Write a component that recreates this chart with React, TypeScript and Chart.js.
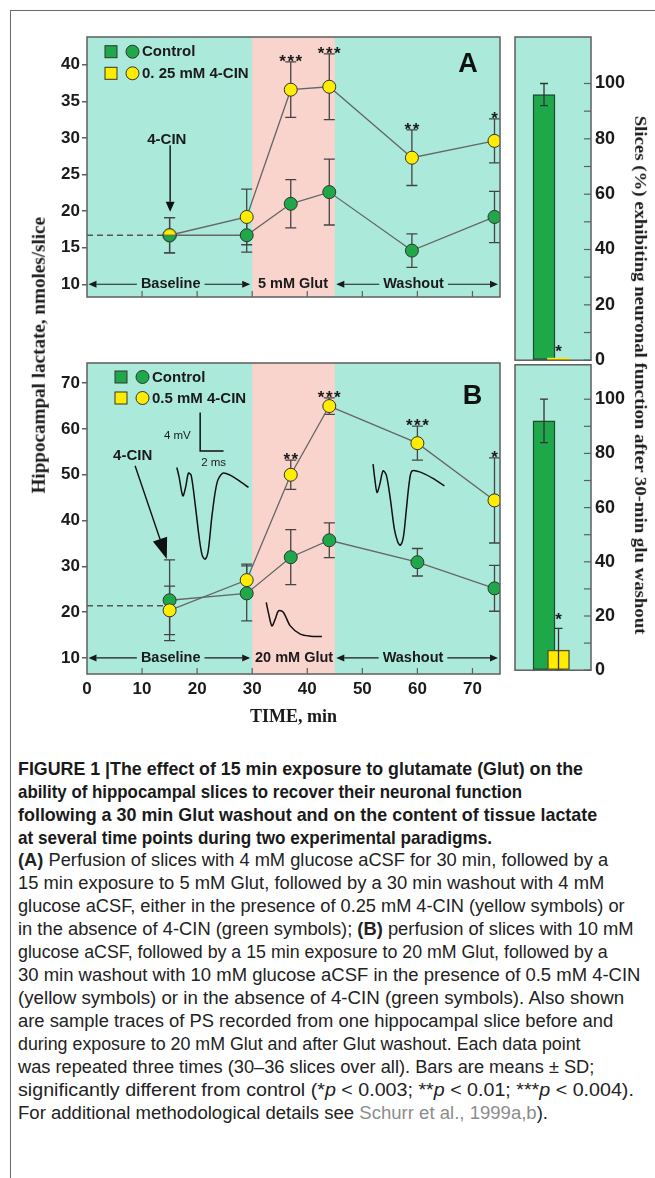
import React, { useEffect, useLayoutEffect, useRef } from 'react';
import { Chart, registerables } from 'chart.js';

Chart.register(...registerables);

if (typeof document !== 'undefined') {
  document.body.style.margin = '0';
  document.body.style.overflow = 'hidden';
  document.body.style.background = '#ffffff';
}

// ================= DATA =================
const xTicks = [0, 10, 20, 30, 40, 50, 60, 70];
const glutWindow = [30, 45];

// Panel A (4 mM glucose, 5 mM Glut, 0.25 mM 4-CIN)
const timesA = [15, 29, 37, 44, 59, 74];
const controlA = [16.7, 16.7, 21.0, 22.6, 14.6, 19.2];
const controlErrA = [2.4, 2.3, 3.3, 4.5, 2.3, 3.5];
const cinA = [16.7, 19.2, 36.6, 37.0, 27.3, 29.6];
const cinErrA = [2.4, 3.8, 3.8, 4.5, 3.8, 3.0];
const starsA = ['', '', '***', '***', '**', '*'];
const baselineTimes = [0, 15];
const baselineA = [16.7, 16.7];
const yTicksA = [10, 15, 20, 25, 30, 35, 40];

// Panel B (10 mM glucose, 20 mM Glut, 0.5 mM 4-CIN)
const timesB = [15, 29, 37, 44, 60, 74];
const controlB = [22.6, 24.1, 32.0, 35.7, 30.9, 25.2];
const controlErrB = [8.8, 6.0, 6.0, 3.8, 3.0, 5.0];
const cinB = [20.4, 27.0, 50.0, 65.0, 56.9, 44.4];
const cinErrB = [5.3, 3.5, 3.2, 1.8, 3.7, 9.3];
const starsB = ['', '', '**', '***', '***', '*'];
const baselineB = [21.4, 21.4];
const yTicksB = [10, 20, 30, 40, 50, 60, 70];

// Bars: slices (%) exhibiting neuronal function after washout
const barLabels = ['Control', '4-CIN'];
const barA = [96, 0];
const barErrA = [4, 0];
const barStarsA = ['', '*'];
const barB = [92, 7.4];
const barErrB = [8, 8];
const barStarsB = ['', '*'];
const barTicks = [0, 10, 20, 30, 40, 50, 60, 70, 80, 90, 100];

// Sample PS traces drawn in panel B (time units, lactate-axis units)
const traceBeforeT = [16.31, 16.73, 17.4, 17.91, 18.42, 18.91, 19.64, 20.36, 20.91, 21.45, 22.0, 22.73, 23.64, 24.67, 26.0, 27.45, 29.33];
const traceBeforeV = [51.59, 49.48, 45.39, 47.29, 50.35, 49.91, 43.58, 36.38, 32.45, 31.57, 33.32, 41.4, 48.38, 50.35, 49.91, 48.82, 47.23];
const traceGlutT = [32.55, 33.0, 33.58, 34.18, 34.78, 35.64, 36.91, 38.73, 40.55, 42.67];
const traceGlutV = [22.12, 19.56, 17.01, 18.47, 20.28, 20.0, 17.01, 15.2, 14.76, 14.69];
const traceAfterT = [51.95, 52.27, 52.67, 53.18, 53.76, 54.36, 55.09, 55.82, 56.45, 56.91, 57.45, 58.0, 58.55, 59.04, 60.55, 62.73, 64.91];
const traceAfterV = [52.31, 49.04, 46.14, 47.95, 50.85, 49.91, 44.67, 38.12, 35.28, 34.63, 36.38, 42.49, 48.6, 50.85, 50.57, 49.26, 47.58];
const scaleBarT = [20.55, 20.55, 24.8];
const scaleBarV = [63.6, 55.2, 55.2];

// ================= STYLE =================
const SANS = '"Liberation Sans", Arial, Helvetica, sans-serif';
const SERIF = '"Liberation Serif", "Times New Roman", serif';
const NARROW = '"Liberation Sans Narrow", "Arial Narrow", "Liberation Sans", Arial, sans-serif';
const TEAL = '#abeadb';
const PINK = '#f8d4cd';
const GREEN = '#1fa84a';
const YELLOW = '#ffec00';
const INK = '#1a1a1a';
const FRAME = '#5e5e5e';
const LINE = '#666666';

Chart.defaults.font.family = SANS;

type Phase = { label: string; from: number; to: number; at: number; arrows: boolean };
type Note = { text: string; x: number; y: number; font: string };
type Arrow = { x1: number; y1: number; x2: number; y2: number; head: number; half: number };

interface PanelCfg {
  id: string;
  times: number[];
  control: number[];
  controlErr: number[];
  cin: number[];
  cinErr: number[];
  stars: string[];
  phases: Phase[];
  phaseY: number;
  legendLabels: string[];
  legendDx: number;
  legendRows: number[];
  letter: string;
  letterX: number;
  letterY: number;
  notes: Note[];
  arrows: Arrow[];
}

function drawArrow(ctx: CanvasRenderingContext2D, x1: number, y1: number, x2: number, y2: number, head: number, half: number) {
  const ang = Math.atan2(y2 - y1, x2 - x1);
  const bx = x2 - head * Math.cos(ang);
  const by = y2 - head * Math.sin(ang);
  ctx.beginPath();
  ctx.moveTo(x1, y1);
  ctx.lineTo(bx, by);
  ctx.stroke();
  ctx.beginPath();
  ctx.moveTo(x2, y2);
  ctx.lineTo(bx + half * Math.sin(ang), by - half * Math.cos(ang));
  ctx.lineTo(bx - half * Math.sin(ang), by + half * Math.cos(ang));
  ctx.closePath();
  ctx.fill();
}

function drawErr(ctx: CanvasRenderingContext2D, px: number, yTop: number, yBot: number, cap: number) {
  ctx.beginPath();
  ctx.moveTo(px, yTop);
  ctx.lineTo(px, yBot);
  ctx.moveTo(px - cap, yTop);
  ctx.lineTo(px + cap, yTop);
  ctx.moveTo(px - cap, yBot);
  ctx.lineTo(px + cap, yBot);
  ctx.stroke();
}

function linePanelPlugin(cfg: PanelCfg) {
  return {
    id: 'panel' + cfg.id,
    beforeDraw(chart: any) {
      const { ctx, chartArea: a } = chart;
      const x = chart.scales.x;
      ctx.save();
      ctx.fillStyle = TEAL;
      ctx.fillRect(a.left, a.top, a.right - a.left, a.bottom - a.top);
      const p0 = x.getPixelForValue(glutWindow[0]);
      const p1 = x.getPixelForValue(glutWindow[1]);
      ctx.fillStyle = PINK;
      ctx.fillRect(p0, a.top, p1 - p0, a.bottom - a.top);
      ctx.restore();
    },
    beforeDatasetsDraw(chart: any) {
      const { ctx } = chart;
      const x = chart.scales.x;
      const y = chart.scales.y;
      ctx.save();
      ctx.strokeStyle = '#444';
      ctx.lineWidth = 1.3;
      const series = [
        [cfg.control, cfg.controlErr],
        [cfg.cin, cfg.cinErr],
      ];
      series.forEach(([vals, errs]) => {
        vals.forEach((v, i) => {
          const px = x.getPixelForValue(cfg.times[i]);
          drawErr(ctx, px, y.getPixelForValue(v + errs[i]), y.getPixelForValue(v - errs[i]), 5.5);
        });
      });
      ctx.restore();
    },
    afterDraw(chart: any) {
      const { ctx, chartArea: a } = chart;
      const x = chart.scales.x;
      const y = chart.scales.y;
      ctx.save();
      // significance stars
      ctx.fillStyle = INK;
      ctx.font = `bold 17px ${SANS}`;
      ctx.textAlign = 'center';
      ctx.textBaseline = 'alphabetic';
      (ctx as any).letterSpacing = '1.5px';
      cfg.stars.forEach((s, i) => {
        if (!s) return;
        const px = x.getPixelForValue(cfg.times[i]);
        const py = y.getPixelForValue(cfg.cin[i] + cfg.cinErr[i]);
        ctx.fillText(s, px + 0.75, py + 5);
      });
      (ctx as any).letterSpacing = '0px';
      // frame
      ctx.strokeStyle = FRAME;
      ctx.lineWidth = 1.5;
      ctx.strokeRect(a.left, a.top, a.right - a.left, a.bottom - a.top);
      // inner x ticks
      ctx.lineWidth = 1.2;
      xTicks.forEach((t) => {
        if (t === 0) return;
        const px = x.getPixelForValue(t);
        ctx.beginPath();
        ctx.moveTo(px, a.bottom);
        ctx.lineTo(px, a.bottom - 6);
        ctx.stroke();
      });
      // phase annotations
      ctx.font = `bold 14.5px ${SANS}`;
      ctx.fillStyle = INK;
      ctx.strokeStyle = INK;
      ctx.lineWidth = 1.2;
      ctx.textAlign = 'center';
      ctx.textBaseline = 'middle';
      const py = y.getPixelForValue(cfg.phaseY);
      cfg.phases.forEach((ph) => {
        const cx = x.getPixelForValue(ph.at);
        ctx.fillText(ph.label, cx, py);
        if (ph.arrows) {
          const w = ctx.measureText(ph.label).width;
          const l0 = x.getPixelForValue(ph.from) + 1.5;
          const r0 = x.getPixelForValue(ph.to) - 2;
          drawArrow(ctx, cx - w / 2 - 4, py, l0, py, 8, 3.5);
          drawArrow(ctx, cx + w / 2 + 4, py, r0, py, 8, 3.5);
        }
      });
      // legend
      const colors = [GREEN, YELLOW];
      cfg.legendLabels.forEach((lab, i) => {
        const cy = a.top + cfg.legendRows[i];
        const sx = a.left + cfg.legendDx;
        ctx.fillStyle = colors[i];
        ctx.fillRect(sx, cy - 6, 12, 12);
        ctx.strokeStyle = '#333';
        ctx.lineWidth = 1;
        ctx.strokeRect(sx, cy - 6, 12, 12);
        ctx.beginPath();
        ctx.arc(sx + 27.5, cy, 6.5, 0, Math.PI * 2);
        ctx.fill();
        ctx.stroke();
        ctx.fillStyle = INK;
        ctx.font = `bold 15px ${SANS}`;
        ctx.textAlign = 'left';
        ctx.fillText(lab, sx + 37, cy + 0.5);
      });
      // panel letter
      ctx.font = `bold 27px ${SANS}`;
      ctx.textAlign = 'center';
      ctx.fillStyle = '#111';
      ctx.fillText(cfg.letter, x.getPixelForValue(cfg.letterX), y.getPixelForValue(cfg.letterY));
      // notes
      cfg.notes.forEach((n) => {
        ctx.font = n.font;
        ctx.fillStyle = INK;
        ctx.fillText(n.text, x.getPixelForValue(n.x), y.getPixelForValue(n.y));
      });
      // arrows
      ctx.strokeStyle = '#111';
      ctx.fillStyle = '#111';
      ctx.lineWidth = 1.4;
      cfg.arrows.forEach((ar) => {
        drawArrow(ctx, x.getPixelForValue(ar.x1), y.getPixelForValue(ar.y1), x.getPixelForValue(ar.x2), y.getPixelForValue(ar.y2), ar.head, ar.half);
      });
      ctx.restore();
    },
  };
}

function halfMarker(r: number) {
  const c = document.createElement('canvas');
  const s = Math.ceil(r * 2 + 3);
  c.width = s;
  c.height = s;
  const g = c.getContext('2d')!;
  const m = s / 2;
  g.beginPath();
  g.arc(m, m, r, Math.PI, 2 * Math.PI);
  g.closePath();
  g.fillStyle = YELLOW;
  g.fill();
  g.beginPath();
  g.arc(m, m, r, 0, Math.PI);
  g.closePath();
  g.fillStyle = GREEN;
  g.fill();
  g.beginPath();
  g.moveTo(m - r, m);
  g.lineTo(m + r, m);
  g.strokeStyle = '#555';
  g.lineWidth = 1;
  g.stroke();
  g.beginPath();
  g.arc(m, m, r, 0, Math.PI * 2);
  g.strokeStyle = '#333';
  g.lineWidth = 1;
  g.stroke();
  return c;
}

function pts(xs: number[], ys: number[]) {
  return xs.map((t, i) => ({ x: t, y: ys[i] }));
}

function seriesDs(label: string, xs: number[], ys: number[], color: string, extra: any = {}) {
  return {
    type: 'line',
    label,
    data: pts(xs, ys),
    borderColor: LINE,
    borderWidth: 1.3,
    pointRadius: 6.5,
    pointBackgroundColor: color,
    pointBorderColor: '#333',
    pointBorderWidth: 1,
    tension: 0,
    ...extra,
  };
}

function traceDs(label: string, xs: number[], ys: number[], tension: number) {
  return {
    type: 'line',
    label,
    data: pts(xs, ys),
    borderColor: '#111',
    borderWidth: 1.5,
    pointRadius: 0,
    tension,
  };
}

function lineConfig(cfg: PanelCfg, datasets: any[], yMin: number, yMax: number, yTicks: number[], showX: boolean, padding: any) {
  return {
    type: 'line',
    data: { datasets },
    options: {
      animation: false,
      responsive: false,
      devicePixelRatio: 1,
      layout: { padding },
      plugins: { legend: { display: false }, tooltip: { enabled: false } },
      scales: {
        x: {
          type: 'linear',
          min: 0,
          max: 75,
          display: showX,
          afterBuildTicks: (s: any) => {
            s.ticks = xTicks.map((v) => ({ value: v }));
          },
          afterFit: (s: any) => {
            s.height = 66;
          },
          ticks: { font: { family: SANS, weight: 'bold', size: 17 }, color: INK, padding: 5, maxRotation: 0, autoSkip: false },
          grid: { display: false, drawTicks: false },
          border: { display: false },
          title: {
            display: showX,
            text: 'TIME, min',
            font: { family: SERIF, weight: 'bold', size: 18 },
            color: INK,
            padding: { top: 4, bottom: 12 },
          },
        },
        y: {
          type: 'linear',
          min: yMin,
          max: yMax,
          afterBuildTicks: (s: any) => {
            s.ticks = yTicks.map((v) => ({ value: v }));
          },
          afterFit: (s: any) => {
            s.width = 79;
          },
          ticks: { font: { family: SANS, weight: 'bold', size: 17 }, color: INK, padding: 2 },
          grid: { drawOnChartArea: false, drawTicks: true, tickLength: 5, color: FRAME, lineWidth: 1.5 },
          border: { display: false },
        },
      },
    },
    plugins: [linePanelPlugin(cfg)],
  };
}

const phasesA: Phase[] = [
  { label: 'Baseline', from: 0, to: 30, at: 15.2, arrows: true },
  { label: '5 mM Glut', from: 30, to: 45, at: 37.4, arrows: false },
  { label: 'Washout', from: 45, to: 75, at: 59.3, arrows: true },
];
const phasesB: Phase[] = [
  { label: 'Baseline', from: 0, to: 30, at: 15.2, arrows: true },
  { label: '20 mM Glut', from: 30, to: 45, at: 37.6, arrows: false },
  { label: 'Washout', from: 45, to: 75, at: 59.2, arrows: true },
];

const cfgA: PanelCfg = {
  id: 'A',
  times: timesA,
  control: controlA,
  controlErr: controlErrA,
  cin: cinA,
  cinErr: cinErrA,
  stars: starsA,
  phases: phasesA,
  phaseY: 10,
  legendLabels: ['Control', '0. 25 mM 4-CIN'],
  legendDx: 18,
  legendRows: [14.7, 36.3],
  letter: 'A',
  letterX: 69.2,
  letterY: 40.05,
  notes: [{ text: '4-CIN', x: 14.5, y: 29.8, font: `bold 15px ${SANS}` }],
  arrows: [{ x1: 15.1, y1: 29.0, x2: 15.1, y2: 19.9, head: 10, half: 4.5 }],
};

const cfgB: PanelCfg = {
  id: 'B',
  times: timesB,
  control: controlB,
  controlErr: controlErrB,
  cin: cinB,
  cinErr: cinErrB,
  stars: starsB,
  phases: phasesB,
  phaseY: 10,
  legendLabels: ['Control', '0.5 mM 4-CIN'],
  legendDx: 28,
  legendRows: [14, 35],
  letter: 'B',
  letterX: 70,
  letterY: 67.05,
  notes: [
    { text: '4-CIN', x: 8.3, y: 54.06, font: `bold 15px ${SANS}` },
    { text: '4 mV', x: 16.4, y: 58.4, font: `11.5px ${SANS}` },
    { text: '2 ms', x: 23.0, y: 52.6, font: `11.5px ${SANS}` },
  ],
  arrows: [{ x1: 8.73, y1: 51.95, x2: 14.49, y2: 31.6, head: 21, half: 7.5 }],
};

// Chart.js draws dataset 0 last (on top): list top-most first.
function buildA() {
  const half = halfMarker(6.5);
  const datasets = [
    seriesDs('0.25 mM 4-CIN', timesA, cinA, YELLOW, {
      pointStyle: timesA.map((_, i) => (i === 0 ? half : 'circle')),
    }),
    seriesDs('Control', timesA, controlA, GREEN),
    { type: 'line', label: 'baseline', data: pts(baselineTimes, baselineA), borderColor: '#555', borderWidth: 1.3, borderDash: [6, 4], pointRadius: 0 },
  ];
  return lineConfig(cfgA, datasets, 8.26, 43.8, yTicksA, false, { left: 0, top: 15, right: 8, bottom: 12 });
}

function buildB() {
  const datasets = [
    seriesDs('0.5 mM 4-CIN', timesB, cinB, YELLOW),
    seriesDs('Control', timesB, controlB, GREEN),
    { type: 'line', label: 'baseline', data: pts(baselineTimes, baselineB), borderColor: '#555', borderWidth: 1.3, borderDash: [6, 4], pointRadius: 0 },
    { type: 'line', label: 'scale bar', data: pts(scaleBarT, scaleBarV), borderColor: '#111', borderWidth: 1.5, pointRadius: 0, tension: 0 },
    traceDs('PS before', traceBeforeT, traceBeforeV, 0.3),
    traceDs('PS during Glut', traceGlutT, traceGlutV, 0.3),
    traceDs('PS after washout', traceAfterT, traceAfterV, 0.3),
  ];
  return lineConfig(cfgB, datasets, 6.5, 74.4, yTicksB, true, { left: 0, top: 13, right: 8, bottom: 0 });
}

function barPanelPlugin(values: number[], errs: number[], stars: string[]) {
  return {
    id: 'barPanel',
    beforeDraw(chart: any) {
      const { ctx, chartArea: a } = chart;
      ctx.save();
      ctx.fillStyle = TEAL;
      ctx.fillRect(a.left, a.top, a.right - a.left, a.bottom - a.top);
      ctx.restore();
    },
    afterDraw(chart: any) {
      const { ctx, chartArea: a } = chart;
      const y = chart.scales.y;
      const meta = chart.getDatasetMeta(0);
      ctx.save();
      ctx.strokeStyle = '#333';
      ctx.lineWidth = 1.3;
      values.forEach((v, i) => {
        if (!errs[i]) return;
        const px = meta.data[i].x;
        drawErr(ctx, px, y.getPixelForValue(v + errs[i]), y.getPixelForValue(Math.max(0, v - errs[i])), 4);
      });
      ctx.fillStyle = INK;
      ctx.font = `bold 17px ${SANS}`;
      ctx.textAlign = 'center';
      ctx.textBaseline = 'alphabetic';
      stars.forEach((s, i) => {
        if (!s) return;
        const px = meta.data[i].x;
        const py = y.getPixelForValue(values[i] + errs[i]);
        ctx.fillText(s, px, py - 3);
      });
      ctx.strokeStyle = FRAME;
      ctx.lineWidth = 1.5;
      ctx.strokeRect(a.left, a.top, a.right - a.left, a.bottom - a.top);
      ctx.lineWidth = 1.2;
      barTicks.forEach((t) => {
        const py = y.getPixelForValue(t);
        ctx.beginPath();
        ctx.moveTo(a.right, py);
        ctx.lineTo(a.right - 7, py);
        ctx.stroke();
      });
      ctx.restore();
    },
  };
}

function barConfig(values: number[], errs: number[], stars: string[], max: number, padding: any) {
  return {
    type: 'bar',
    data: {
      labels: barLabels,
      datasets: [
        {
          label: 'Slices (%)',
          data: values.map((v, i) => ({ x: i, y: v })),
          backgroundColor: [GREEN, YELLOW],
          borderColor: ['#17502a', '#55552a'],
          borderWidth: (c: any) => (c.raw && c.raw.y > 0 ? 1.5 : 0),
          borderSkipped: false,
          barThickness: 22,
          minBarLength: 2,
        },
      ],
    },
    options: {
      animation: false,
      responsive: false,
      devicePixelRatio: 1,
      layout: { padding },
      plugins: { legend: { display: false }, tooltip: { enabled: false } },
      scales: {
        x: { type: 'linear', min: -0.69, max: 1.93, display: false },
        y: {
          position: 'right',
          min: 0,
          max,
          afterBuildTicks: (s: any) => {
            s.ticks = barTicks.map((v) => ({ value: v }));
          },
          afterFit: (s: any) => {
            s.width = 54;
          },
          ticks: {
            callback: (v: any) => (Number(v) % 20 === 0 ? String(v) : ''),
            font: { family: SANS, weight: 'bold', size: 18 },
            color: INK,
            padding: 4,
            autoSkip: false,
          },
          grid: { drawOnChartArea: false, drawTicks: false },
          border: { display: false },
        },
      },
    },
    plugins: [barPanelPlugin(values, errs, stars)],
  };
}

function buildBarA() {
  return barConfig(barA, barErrA, barStarsA, 116.8, { left: 10, top: 15, right: 0, bottom: 12 });
}
function buildBarB() {
  return barConfig(barB, barErrB, barStarsB, 112.7, { left: 10, top: 13, right: 0, bottom: 11 });
}

// ================= COMPONENTS =================
function ChartCanvas({ build, left, top, width, height }: { build: () => any; left: number; top: number; width: number; height: number }) {
  const ref = useRef<HTMLCanvasElement>(null);
  useEffect(() => {
    const chart = new Chart(ref.current as HTMLCanvasElement, build());
    return () => chart.destroy();
  }, []);
  return <canvas ref={ref} width={width} height={height} style={{ position: 'absolute', left, top, width, height }} />;
}

function FitText({ width, center, style, children }: { width: number; center?: boolean; style: any; children: any }) {
  const ref = useRef<HTMLSpanElement>(null);
  useLayoutEffect(() => {
    const el = ref.current;
    if (!el) return;
    const w = el.offsetWidth;
    const k = w > 0 ? width / w : 1;
    el.style.transform = center ? `translateX(-50%) scaleX(${k})` : `scaleX(${k})`;
  }, [width]);
  return (
    <span
      ref={ref}
      style={{
        display: 'inline-block',
        whiteSpace: 'nowrap',
        position: center ? 'absolute' : 'static',
        left: center ? '50%' : undefined,
        top: 0,
        transformOrigin: center ? 'center center' : 'left center',
        ...style,
      }}
    >
      {children}
    </span>
  );
}

function RotatedTitle({ text, cx, cy, length, angle, size }: { text: string; cx: number; cy: number; length: number; angle: number; size: number }) {
  const h = size * 1.25;
  return (
    <div
      style={{
        position: 'absolute',
        left: cx - length / 2,
        top: cy - h / 2,
        width: length,
        height: h,
        lineHeight: `${h}px`,
        transform: `rotate(${angle}deg)`,
        transformOrigin: 'center center',
      }}
    >
      <FitText width={length} center style={{ font: `bold ${size}px ${SERIF}`, color: INK, lineHeight: `${h}px` }}>
        {text}
      </FitText>
    </div>
  );
}

const captionBold = [
  'FIGURE 1 |The effect of 15 min exposure to glutamate (Glut) on the',
  'ability of hippocampal slices to recover their neuronal function',
  'following a 30 min Glut washout and on the content of tissue lactate',
  'at several time points during two experimental paradigms.',
];
const captionBoldRight = [583, 522, 597, 492];

const GRAY = { color: '#8c8c8c' };
const captionBody = [
  <><b>(A)</b> Perfusion of slices with 4 mM glucose aCSF for 30 min, followed by a</>,
  <>15 min exposure to 5 mM Glut, followed by a 30 min washout with 4 mM</>,
  <>glucose aCSF, either in the presence of 0.25 mM 4-CIN (yellow symbols) or</>,
  <>in the absence of 4-CIN (green symbols); <b>(B)</b> perfusion of slices with 10 mM</>,
  <>glucose aCSF, followed by a 15 min exposure to 20 mM Glut, followed by a</>,
  <>30 min washout with 10 mM glucose aCSF in the presence of 0.5 mM 4-CIN</>,
  <>(yellow symbols) or in the absence of 4-CIN (green symbols). Also shown</>,
  <>are sample traces of PS recorded from one hippocampal slice before and</>,
  <>during exposure to 20 mM Glut and after Glut washout. Each data point</>,
  <>was repeated three times (30–36 slices over all). Bars are means ± SD;</>,
  <>significantly different from control (*<i>p</i> &lt; 0.003; **<i>p</i> &lt; 0.01; ***<i>p</i> &lt; 0.004).</>,
  <>For additional methodological details see <span style={GRAY}>Schurr et al., 1999a,b</span>).</>,
];
const captionBodyRight = [608, 604, 625, 633, 608, 640, 624, 613, 581, 594, 634, 548];

const CAP_LEFT = 18;
const CAP_CENTER0 = 768;
const CAP_STEP = 23;

export default function App() {
  return (
    <div style={{ position: 'relative', width: 655, height: 1178, overflow: 'hidden', background: '#fff' }}>
      <div style={{ position: 'absolute', left: 10, top: 10, width: 645, height: 0, borderTop: '1.5px solid #6a6a6a' }} />
      <div style={{ position: 'absolute', left: 10, top: 10, width: 0, height: 1168, borderLeft: '1.5px solid #6a6a6a' }} />

      <ChartCanvas left={8} top={22} width={500} height={353} build={buildA} />
      <ChartCanvas left={8} top={350} width={500} height={390} build={buildB} />
      <ChartCanvas left={505} top={22} width={140} height={353} build={buildBarA} />
      <ChartCanvas left={505} top={350} width={140} height={335} build={buildBarB} />

      <RotatedTitle text="Hippocampal lactate, nmoles/slice" cx={38.5} cy={355} length={276} angle={-90} size={18} />
      <RotatedTitle text="Slices (%) exhibiting neuronal function after 30-min glu washout" cx={640.5} cy={374.5} length={519} angle={90} size={17} />

      {captionBold.map((t, i) => (
        <div key={'b' + i} style={{ position: 'absolute', left: CAP_LEFT, top: CAP_CENTER0 + i * CAP_STEP - 11.5, height: 23, lineHeight: '23px' }}>
          <FitText width={captionBoldRight[i] - CAP_LEFT} style={{ font: `bold 18.5px ${NARROW}`, color: '#1a1a1a', lineHeight: '23px' }}>
            {t}
          </FitText>
        </div>
      ))}
      {captionBody.map((t, i) => (
        <div key={'r' + i} style={{ position: 'absolute', left: CAP_LEFT, top: CAP_CENTER0 + (i + 4) * CAP_STEP - 11.5, height: 23, lineHeight: '23px' }}>
          <FitText width={captionBodyRight[i] - CAP_LEFT} style={{ font: `17.5px ${NARROW}`, color: '#222', lineHeight: '23px' }}>
            {t}
          </FitText>
        </div>
      ))}
    </div>
  );
}
